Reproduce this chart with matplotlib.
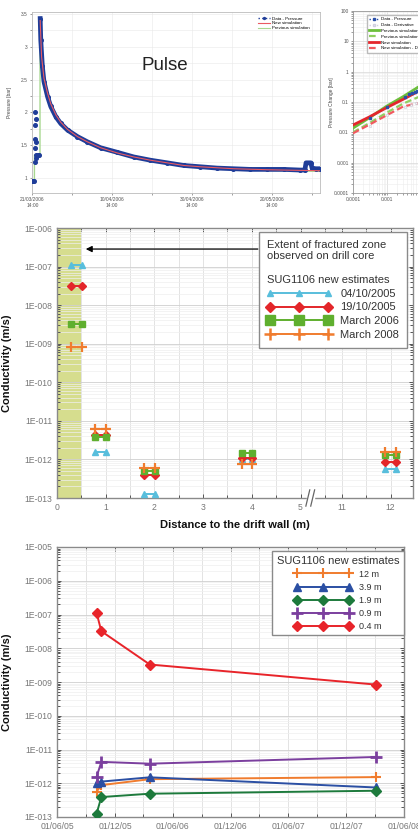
import datetime as dt
import numpy as np
import matplotlib
matplotlib.use("Agg")
import matplotlib.pyplot as plt
import matplotlib.dates as mdates
import matplotlib.transforms as mtransforms
from matplotlib.lines import Line2D
from matplotlib.patches import Rectangle
from matplotlib.ticker import FixedLocator, FuncFormatter, LogLocator, NullFormatter, MultipleLocator

plt.rcParams['font.family'] = ['Liberation Sans', 'DejaVu Sans']

# ---------------- DATA ----------------
# Top-left: pulse test pressure history (days after 21/03/2006 14:00)
data_days = [0.0, 0.2, 0.4, 0.55, 0.6, 0.65, 0.7, 0.75, 0.8, 0.85, 0.9, 1.0,
             1.5, 1.7, 1.95, 2.1, 2.5, 2.9, 3.8, 4.6, 5.9, 7.1,
             8.8, 11.3, 13.8, 17.1, 21.3, 25.4, 29.6, 33.8, 37.9, 42.1,
             46.3, 50.4, 54.6, 58.8, 63.0, 67.1, 68.3, 68.6, 69.8, 70.1,
             71.0, 72.1]
data_p = [0.95, 0.95, 0.96, 1.25, 1.6, 2.0, 1.8, 1.45, 1.9, 1.3, 1.55, 1.35,
          1.35, 1.35, 3.43, 3.1, 2.70, 2.47, 2.24, 2.09, 1.93, 1.83,
          1.73, 1.63, 1.55, 1.46, 1.39, 1.32, 1.27, 1.23, 1.19, 1.17,
          1.15, 1.14, 1.13, 1.13, 1.13, 1.12, 1.12, 1.23, 1.23, 1.15,
          1.14, 1.14]
new_days = [1.95, 2.3, 2.9, 3.8, 4.6, 5.9, 7.1, 8.8, 11.3, 13.8, 17.1, 21.3,
            25.4, 29.6, 33.8, 37.9, 42.1, 50.4, 58.8, 67.1, 72.1]
new_p = [3.4, 2.85, 2.52, 2.29, 2.13, 1.96, 1.85, 1.74, 1.63, 1.55, 1.46, 1.38,
         1.32, 1.27, 1.23, 1.19, 1.17, 1.14, 1.125, 1.115, 1.11]
prev_days = [0.0, 0.5, 0.52, 1.9, 1.93, 2.3, 2.9, 3.8, 4.6, 5.9, 7.1, 8.8, 11.3,
             13.8, 17.1, 21.3, 25.4, 29.6, 33.8, 37.9, 42.1, 50.4, 58.8, 67.1, 72.1]
prev_p = [0.95, 0.95, 1.35, 1.35, 3.4, 2.8, 2.45, 2.22, 2.07, 1.91, 1.81, 1.71, 1.61,
          1.53, 1.45, 1.37, 1.31, 1.26, 1.22, 1.18, 1.16, 1.13, 1.115, 1.105, 1.10]
pulse_tick_days = [0, 20, 40, 60]
pulse_tick_labels = ['21/03/2006\n14:00', '10/04/2006\n14:00',
                     '30/04/2006\n14:00', '20/05/2006\n14:00']
pressure_ticks = [1, 1.5, 2, 2.5, 3, 3.5]

# Top-right: log-log diagnostic plot
ll_t = [1e-4, 3e-4, 1e-3, 3e-3, 1e-2]
ll_new = [0.0174, 0.032, 0.066, 0.123, 0.25]
ll_new_der = [0.0093, 0.0178, 0.037, 0.071, 0.095]
ll_prev = [0.0138, 0.030, 0.074, 0.151, 0.355]
ll_prev_der = [0.010, 0.020, 0.045, 0.089, 0.158]
ll_data_t = [3.2e-4, 1.0e-3, 3.5e-3, 4.5e-3, 5.5e-3, 6.5e-3, 7.5e-3]
ll_data_p = [0.030, 0.068, 0.15, 0.18, 0.20, 0.21, 0.23]
ll_der_t = [3.2e-4, 1.0e-3, 3.5e-3, 5.0e-3, 7.0e-3]
ll_der_p = [0.016, 0.036, 0.066, 0.080, 0.090]
ll_ticks = [1e-4, 1e-3, 1e-2, 1e-1, 1, 10, 100]
ll_labels = ['0.0001', '0.001', '0.01', '0.1', '1', '10', '100']

# Conductivity estimates (SUG1106), by depth
depths = [0.4, 0.9, 1.9, 3.9, 12.0]
campaign_labels = ['04/10/2005', '19/10/2005', 'March 2006', 'March 2008']
campaign_dates = [dt.datetime(2005, 10, 4), dt.datetime(2005, 10, 19),
                  dt.datetime(2006, 3, 21), dt.datetime(2008, 3, 3)]
k_2005_10_04 = [1.12e-7, 1.55e-12, 1.25e-13, 1.05e-12, 5.6e-13]
k_2005_10_19 = [3.2e-8, 4.3e-12, 3.9e-13, 1.12e-12, 8.8e-13]
k_2006_03 = [3.3e-9, 3.8e-12, 4.9e-13, 1.5e-12, 1.32e-12]
k_2008_03 = [8.4e-10, 6.0e-12, 6.0e-13, 7.5e-13, 1.52e-12]
fractured_zone_extent = 0.5
dist_tick_values = [0, 1, 2, 3, 4, 5, 11, 12]
depth_labels = ['12 m', '3.9 m', '1.9 m', '0.9 m', '0.4 m']
depth_order = [12.0, 3.9, 1.9, 0.9, 0.4]

# ---------------- FIGURE ----------------
W, H = 418, 836
fig = plt.figure(figsize=(W / 100, H / 100), dpi=100)
fig.patch.set_facecolor('white')


def ax_px(x0, y0, x1, y1):
    return fig.add_axes([x0 / W, 1 - y1 / H, (x1 - x0) / W, (y1 - y0) / H])


# ---- top-left pulse plot
ax1 = ax_px(32, 12, 320, 193)
ax1.plot(prev_days, prev_p, color='#a8d890', lw=1.0, zorder=2)
peak = data_p.index(max(data_p))
ax1.plot(data_days, data_p, ls='none', marker='o', ms=2.6, color='#1f3d99', zorder=3)
ax1.plot(data_days[peak:], data_p[peak:], color='#1f3d99', lw=3.4, zorder=3,
         solid_joinstyle='round')
ax1.plot(new_days, new_p, color='#ea5a62', lw=0.8, zorder=4)
ax1.set_xlim(-0.1, 72.1)
ax1.set_ylim(0.77, 3.53)
ax1.set_xticks(pulse_tick_days)
ax1.set_xticklabels(pulse_tick_labels)
ax1.set_yticks(pressure_ticks)
ax1.set_yticklabels([f'{v:g}' for v in pressure_ticks])
ax1.xaxis.set_minor_locator(MultipleLocator(10))
ax1.yaxis.set_minor_locator(MultipleLocator(0.25))
ax1.grid(True, which='both', color='#e8e8e8', lw=0.4)
ax1.tick_params(which='both', labelsize=3.5, colors='#555', length=1.5, width=0.4, pad=1.5)
for s in ax1.spines.values():
    s.set_color('#bbbbbb')
    s.set_linewidth(0.6)
ax1.set_ylabel('Pressure [bar]', fontsize=3.5, color='#444')
ax1.yaxis.set_label_coords(-0.069, 0.5)
fig.text(165 / W, 1 - 65 / H, 'Pulse', fontsize=13.5, ha='center', va='center', color='#222')
h1 = [Line2D([], [], color='#1f3d99', ls=':', lw=1.0, marker='o', ms=1.4),
      Line2D([], [], color='#ea5a62', lw=0.8),
      Line2D([], [], color='#a8d890', lw=0.8)]
ax1.legend(h1, ['Data - Pressure', 'New simulation', 'Previous simulation'],
           loc='upper left', bbox_to_anchor=(0.78, 0.985), fontsize=3.2, frameon=False,
           handlelength=2.5, labelspacing=0.15, borderaxespad=0, handletextpad=0.5)

# ---- top-right log-log plot
ax2 = ax_px(353, 11, 557, 193)
ax2.loglog(ll_t, ll_prev, color='#6cbf3c', lw=2.0, zorder=3)
ax2.loglog(ll_t, ll_prev_der, color='#8fd060', lw=1.6, ls=(0, (3, 1.5)), zorder=3)
ax2.loglog(ll_t, ll_new, color='#e4262c', lw=2.0, zorder=4)
ax2.loglog(ll_t, ll_new_der, color='#f05a60', lw=1.6, ls=(0, (3, 1.5)), zorder=4)
ax2.loglog(ll_data_t, ll_data_p, ls='none', marker='s', ms=1.8, color='#2a4fa8', zorder=5)
ax2.loglog(ll_der_t, ll_der_p, ls='none', marker='s', ms=1.8, mfc='#f4f4f4',
           mec='#c8c8d8', mew=0.4, zorder=5)
ax2.set_xlim(1e-4, 1e2)
ax2.set_ylim(1e-4, 1e2)
ax2.set_xticks(ll_ticks)
ax2.set_xticklabels(ll_labels[:2] + [''] * (len(ll_labels) - 2))
ax2.set_yticks(ll_ticks)
ax2.set_yticklabels(ll_labels)
ax2.xaxis.set_minor_locator(LogLocator(base=10, subs=np.arange(2, 10)))
ax2.yaxis.set_minor_locator(LogLocator(base=10, subs=np.arange(2, 10)))
ax2.xaxis.set_minor_formatter(NullFormatter())
ax2.yaxis.set_minor_formatter(NullFormatter())
ax2.grid(True, which='major', color='#d8d8d8', lw=0.5)
ax2.grid(True, which='minor', color='#ececec', lw=0.4)
ax2.tick_params(which='both', labelsize=3.5, colors='#555', length=1.5, width=0.4, pad=1.5)
for s in ax2.spines.values():
    s.set_color('#999999')
    s.set_linewidth(0.6)
ax2.set_ylabel('Pressure Change [bar]', fontsize=3.5, color='#444')
ax2.yaxis.set_label_coords(-0.093, 0.5)
h2 = [Line2D([], [], color='#2a4fa8', ls=':', lw=1.0, marker='s', ms=1.5),
      Line2D([], [], color='#d0d0e0', ls=':', lw=1.0, marker='s', ms=1.5, mfc='#f4f4f4'),
      Line2D([], [], color='#6cbf3c', lw=2.0),
      Line2D([], [], color='#8fd060', lw=1.6, ls=(0, (3, 1.5))),
      Line2D([], [], color='#e4262c', lw=2.0),
      Line2D([], [], color='#f05a60', lw=1.6, ls=(0, (3, 1.5)))]
ax2.legend(h2, ['Data - Pressure', 'Data - Derivative', 'Previous simulation',
                'Previous simulation - Derivative', 'New simulation',
                'New simulation - Derivative'],
           loc='upper left', bbox_to_anchor=(0.069, 0.978), fontsize=3.2, frameon=True,
           fancybox=False, edgecolor='#bbbbbb', framealpha=1, handlelength=2.2,
           labelspacing=0.38, borderaxespad=0, handletextpad=0.5, borderpad=0.5)

# ---- middle: conductivity vs distance
BREAK_START, BREAK_SHIFT = 5.5, 5.15


def dpos(d):
    return d if d <= BREAK_START else d - BREAK_SHIFT


axm = ax_px(57, 228, 413, 498)
axm.set_yscale('log')
axm.set_ylim(1e-13, 1e-6)
axm.set_xlim(0, 7.31)
axm.axvspan(0, dpos(fractured_zone_extent), color='#d6dd8e', zorder=1, lw=0)

mid_styles = [
    dict(color='#58bedc', marker='^', ms=4.0, lw=1.4),
    dict(color='#e3262a', marker='D', ms=4.2, lw=1.4),
    dict(color='#5faf2e', marker='s', ms=5.0, lw=1.4),
    dict(color='#f07c2e', marker='+', ms=6.5, mew=1.6, lw=1.4),
]
mid_series = [k_2005_10_04, k_2005_10_19, k_2006_03, k_2008_03]
HW = 0.11
for vals, st in zip(mid_series, mid_styles):
    for d, v in zip(depths, vals):
        p = dpos(d)
        axm.plot([p - HW, p + HW], [v, v], zorder=3, **st)

axm.set_xticks([dpos(v) for v in dist_tick_values])
axm.set_xticklabels([str(v) for v in dist_tick_values])
minor_x = [v * 0.5 for v in range(1, 12)] + [dpos(11.5), dpos(12.5)]
axm.xaxis.set_minor_locator(FixedLocator(minor_x))
fmt_e = FuncFormatter(lambda v, _: f"1E-{int(round(-np.log10(v))):03d}")
axm.yaxis.set_major_formatter(fmt_e)
axm.yaxis.set_major_locator(LogLocator(base=10, numticks=20))
axm.yaxis.set_minor_locator(LogLocator(base=10, subs=np.arange(2, 10), numticks=20))
axm.yaxis.set_minor_formatter(NullFormatter())
axm.grid(True, which='major', axis='y', color='#cfcfcf', lw=0.6)
axm.grid(True, which='minor', axis='y', color='#efefef', lw=0.5)
axm.grid(True, which='both', axis='x', color='#dedede', lw=0.6)
axm.tick_params(which='both', direction='in', top=True, right=True, colors='#555',
                labelcolor='#777', labelsize=6.2, length=3, width=0.7)
axm.tick_params(which='minor', length=2)
for s in axm.spines.values():
    s.set_color('#8a8a8a')
    s.set_linewidth(1.0)
axm.set_ylabel('Conductivity (m/s)', fontsize=8, fontweight='bold', color='#111')
axm.yaxis.set_label_coords(-0.126, 0.5)
axm.set_xlabel('Distance to the drift wall (m)', fontsize=8, fontweight='bold', color='#111')
axm.xaxis.set_label_coords(0.5, -0.083)

# axis-break mark
brk = 5.2
trans = mtransforms.blended_transform_factory(axm.transData, axm.transAxes)
axm.add_patch(Rectangle((brk - 0.07, -0.02), 0.14, 0.04, transform=trans,
                        color='white', clip_on=False, zorder=5))
for off in (-0.05, 0.05):
    axm.plot([brk + off - 0.04, brk + off + 0.04], [-0.03, 0.03], transform=trans,
             color='#666', lw=0.9, clip_on=False, zorder=6)

# arrow and legend
axm.annotate('', xy=(0.073, 0.922), xytext=(0.572, 0.922), xycoords='axes fraction',
             arrowprops=dict(arrowstyle='-|>', color='black', lw=0.9, mutation_scale=9),
             zorder=7)
leg_mid_h = [Line2D([], [], color='#58bedc', marker='^', ms=5, lw=1.4),
             Line2D([], [], color='#e3262a', marker='D', ms=5.5, lw=1.4),
             Line2D([], [], color='#5faf2e', marker='s', ms=7, lw=1.4),
             Line2D([], [], color='#f07c2e', marker='+', ms=8, mew=1.8, lw=1.4)]
legm = axm.legend(leg_mid_h, campaign_labels, loc='upper right',
                  bbox_to_anchor=(0.983, 0.985), borderaxespad=0, fontsize=8,
                  title='Extent of fractured zone\nobserved on drill core\n\nSUG1106 new estimates',
                  title_fontsize=8, alignment='left', numpoints=3, handlelength=5.8,
                  handletextpad=0.8, labelspacing=0.35, fancybox=False,
                  edgecolor='#8a8a8a', framealpha=1, borderpad=0.7)
legm.get_frame().set_linewidth(1.0)
for t in legm.get_texts():
    t.set_color('#333')
legm.get_title().set_color('#333')
legm.set_zorder(8)

# ---- bottom: conductivity vs time
axb = ax_px(57, 547, 404, 817)
axb.set_yscale('log')
by_depth = {d: [k_2005_10_04[i], k_2005_10_19[i], k_2006_03[i], k_2008_03[i]]
            for i, d in enumerate(depths)}
bot_styles = {
    12.0: dict(color='#f07c2e', marker='+', ms=7, mew=1.5, lw=1.4),
    3.9: dict(color='#2b4fa3', marker='^', ms=6, lw=1.4),
    1.9: dict(color='#1d7a3c', marker='D', ms=5.5, lw=1.4),
    0.9: dict(color='#7b3f9e', marker='+', ms=9, mew=2.0, lw=1.4),
    0.4: dict(color='#e8242a', marker='D', ms=5.5, lw=1.4),
}
for d in depth_order:
    axb.plot(campaign_dates, by_depth[d], zorder=3, **bot_styles[d])
axb.set_ylim(1e-13, 1e-5)
axb.set_xlim(dt.datetime(2005, 6, 1), dt.datetime(2008, 6, 1))
axb.xaxis.set_major_locator(mdates.MonthLocator(bymonth=[6, 12], bymonthday=1))
axb.xaxis.set_major_formatter(mdates.DateFormatter('%d/%m/%y'))
axb.xaxis.set_minor_locator(mdates.MonthLocator(bymonth=[3, 9], bymonthday=1))
axb.yaxis.set_major_formatter(fmt_e)
axb.yaxis.set_major_locator(LogLocator(base=10, numticks=20))
axb.yaxis.set_minor_locator(LogLocator(base=10, subs=np.arange(2, 10), numticks=20))
axb.yaxis.set_minor_formatter(NullFormatter())
axb.grid(True, which='major', axis='y', color='#cfcfcf', lw=0.6)
axb.grid(True, which='minor', axis='y', color='#efefef', lw=0.5)
axb.grid(True, which='both', axis='x', color='#dedede', lw=0.6)
axb.tick_params(which='both', direction='in', top=True, right=True, colors='#555',
                labelcolor='#777', labelsize=6.2, length=3, width=0.7)
axb.tick_params(which='minor', length=2)
for s in axb.spines.values():
    s.set_color('#8a8a8a')
    s.set_linewidth(1.0)
axb.set_ylabel('Conductivity (m/s)', fontsize=8, fontweight='bold', color='#111')
axb.yaxis.set_label_coords(-0.13, 0.5)
leg_b_h = [Line2D([], [], **bot_styles[d]) for d in depth_order]
legb = axb.legend(leg_b_h, depth_labels, loc='upper right', bbox_to_anchor=(1.0, 0.985),
                  borderaxespad=0, fontsize=6.5, title='SUG1106 new estimates',
                  title_fontsize=8, numpoints=3, handlelength=6.3, handletextpad=0.9,
                  labelspacing=0.45, fancybox=False, edgecolor='#8a8a8a', framealpha=1,
                  borderpad=0.5)
legb.get_frame().set_linewidth(1.0)
for t in legb.get_texts():
    t.set_color('#333')
legb.get_title().set_color('#333')

fig.savefig('out.png', dpi=100, facecolor='white')
